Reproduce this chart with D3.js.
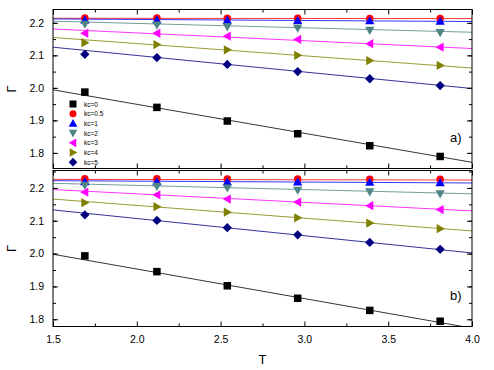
<!DOCTYPE html>
<html>
<head>
<meta charset="utf-8">
<script src="https://cdn.jsdelivr.net/npm/d3@7"></script>
<style>
  body { margin: 0; background: #fff; }
  text { font-family: "Liberation Sans", Arial, sans-serif; }
</style>
</head>
<body>
<div id="chart-container"></div>
<script>
// two stacked panels, Gamma vs T for several kc values

const T = [1.69, 2.12, 2.54, 2.96, 3.39, 3.81];
const labels = ["kc=0", "kc=0.5", "kc=1", "kc=2", "kc=3", "kc=4", "kc=5"];
const colors = ["#000000", "#ff0000", "#0000ff", "#4f8585", "#ff00ff", "#808000", "#000080"];
const shapes = ["square", "circle", "up", "down", "left", "right", "diamond"];

// panel a)
const gammaA = [
    [1.987, 1.940, 1.898, 1.859, 1.822, 1.789],
    [2.215, 2.215, 2.214, 2.214, 2.213, 2.213],
    [2.209, 2.209, 2.208, 2.207, 2.206, 2.205],
    [2.196, 2.193, 2.188, 2.184, 2.177, 2.170],
    [2.168, 2.168, 2.159, 2.149, 2.136, 2.125],
    [2.139, 2.133, 2.117, 2.100, 2.084, 2.069],
    [2.103, 2.093, 2.072, 2.050, 2.028, 2.007]
];
// fit lines: value at T=1.5 and T=4.0
const fitA = [
    [1.994, 1.771], [2.214, 2.213], [2.212, 2.204], [2.205, 2.171],
    [2.181, 2.121], [2.155, 2.061], [2.125, 1.998]
];

// panel b)
const gammaB = [
    [1.993, 1.945, 1.902, 1.864, 1.827, 1.794],
    [2.228, 2.228, 2.227, 2.227, 2.226, 2.226],
    [2.219, 2.219, 2.218, 2.218, 2.217, 2.216],
    [2.208, 2.205, 2.200, 2.193, 2.188, 2.182],
    [2.187, 2.179, 2.166, 2.157, 2.146, 2.134],
    [2.155, 2.143, 2.126, 2.109, 2.093, 2.076],
    [2.118, 2.101, 2.079, 2.057, 2.034, 2.013]
];
const fitB = [
    [1.998, 1.773], [2.226, 2.224], [2.222, 2.215], [2.214, 2.182],
    [2.195, 2.130], [2.166, 2.069], [2.133, 2.002]
];

const yTicks = [1.8, 1.9, 2.0, 2.1, 2.2];
const xTicks = [1.5, 2.0, 2.5, 3.0, 3.5, 4.0];

const svgWidth = 494, svgHeight = 370;
const left = 53, right = 472;

const svg = d3.select("#chart-container")
    .append("svg")
    .attr("width", svgWidth)
    .attr("height", svgHeight);

const scaleX = d3.scaleLinear().domain([1.5, 4.0]).range([left, right]);

function marker(g, shape, x, y, color, s) {
    if (shape === "circle") {
        g.append("circle").attr("cx", x).attr("cy", y).attr("r", s / 2).attr("fill", color);
        return;
    }
    if (shape === "square") {
        g.append("rect").attr("x", x - s / 2).attr("y", y - s / 2)
            .attr("width", s).attr("height", s).attr("fill", color);
        return;
    }
    const r = s * 0.62;
    let pts;
    if (shape === "up") pts = [[0, -r], [r, r * 0.75], [-r, r * 0.75]];
    if (shape === "down") pts = [[0, r], [r, -r * 0.75], [-r, -r * 0.75]];
    if (shape === "left") pts = [[-r, 0], [r * 0.75, -r], [r * 0.75, r]];
    if (shape === "right") pts = [[r, 0], [-r * 0.75, -r], [-r * 0.75, r]];
    if (shape === "diamond") pts = [[0, -r], [r, 0], [0, r], [-r, 0]];
    g.append("path")
        .attr("d", "M" + pts.map(p => (x + p[0]) + "," + (y + p[1])).join("L") + "Z")
        .attr("fill", color);
}

function panel(top, bottom, domain, gamma, fit, tag, showX) {
    const scaleY = d3.scaleLinear().domain(domain).range([bottom, top]);
    const g = svg.append("g");

    const clipId = "clip" + tag;
    svg.append("clipPath").attr("id", clipId)
        .append("rect").attr("x", left).attr("y", top)
        .attr("width", right - left).attr("height", bottom - top);

    const plot = g.append("g").attr("clip-path", `url(#${clipId})`);

    // fit lines
    fit.forEach(function(f, i) {
        plot.append("line")
            .attr("x1", scaleX(1.5)).attr("y1", scaleY(f[0]))
            .attr("x2", scaleX(4.0)).attr("y2", scaleY(f[1]))
            .attr("stroke", colors[i])
            .attr("stroke-opacity", 0.8)
            .attr("stroke-width", 1);
    });

    // markers
    gamma.forEach(function(series, i) {
        series.forEach(function(v, j) {
            marker(plot, shapes[i], scaleX(T[j]), scaleY(v), colors[i], 7.5);
        });
    });

    // axes, ticks inward on all sides
    const minorY = d3.range(1.75, 2.26, 0.05).map(d => +d.toFixed(2))
        .filter(d => d >= domain[0] && d <= domain[1]);
    const minorX = d3.range(1.75, 4.0, 0.5);

    g.append("g").attr("transform", `translate(${left},0)`)
        .call(d3.axisLeft(scaleY).tickValues(yTicks).tickFormat(d3.format(".1f"))
            .tickSizeInner(-5).tickSizeOuter(0).tickPadding(9))
        .call(a => a.select(".domain").remove());
    g.append("g").attr("transform", `translate(${left},0)`)
        .call(d3.axisLeft(scaleY).tickValues(minorY).tickFormat("").tickSizeInner(-3).tickSizeOuter(0))
        .call(a => a.select(".domain").remove());
    g.append("g").attr("transform", `translate(${right},0)`)
        .call(d3.axisRight(scaleY).tickValues(yTicks).tickFormat("").tickSizeInner(-5).tickSizeOuter(0))
        .call(a => a.select(".domain").remove());
    g.append("g").attr("transform", `translate(${right},0)`)
        .call(d3.axisRight(scaleY).tickValues(minorY).tickFormat("").tickSizeInner(-3).tickSizeOuter(0))
        .call(a => a.select(".domain").remove());

    const bottomAxis = d3.axisBottom(scaleX).tickValues(xTicks)
        .tickFormat(showX ? d3.format(".1f") : "").tickSizeInner(-5).tickSizeOuter(0).tickPadding(9);
    g.append("g").attr("transform", `translate(0,${bottom})`)
        .call(bottomAxis)
        .call(a => a.select(".domain").remove());
    g.append("g").attr("transform", `translate(0,${bottom})`)
        .call(d3.axisBottom(scaleX).tickValues(minorX).tickFormat("").tickSizeInner(-3).tickSizeOuter(0))
        .call(a => a.select(".domain").remove());
    g.append("g").attr("transform", `translate(0,${top})`)
        .call(d3.axisTop(scaleX).tickValues(xTicks).tickFormat("").tickSizeInner(-5).tickSizeOuter(0))
        .call(a => a.select(".domain").remove());
    g.append("g").attr("transform", `translate(0,${top})`)
        .call(d3.axisTop(scaleX).tickValues(minorX).tickFormat("").tickSizeInner(-3).tickSizeOuter(0))
        .call(a => a.select(".domain").remove());

    g.selectAll(".tick text").attr("font-size", "10.5px").attr("fill", "#000")
        .attr("font-family", "'Liberation Sans', Arial, sans-serif");

    g.append("rect")
        .attr("x", left).attr("y", top)
        .attr("width", right - left).attr("height", bottom - top)
        .attr("fill", "none").attr("stroke", "#000").attr("stroke-width", 1);

    g.append("text")
        .attr("x", 450).attr("y", bottom - 27)
        .attr("font-size", "13px")
        .text(tag + ")");

    g.append("text")
        .attr("transform", `translate(16,${(top + bottom) / 2}) rotate(-90)`)
        .attr("text-anchor", "middle")
        .attr("font-size", "13px")
        .text("Γ");

    return g;
}

const gA = panel(9.5, 168.5, [1.752, 2.241], gammaA, fitA, "a", false);
panel(170.5, 326.5, [1.778, 2.253], gammaB, fitB, "b", true);

// legend in panel a)
const legendG = gA.append("g").attr("transform", "translate(73,104)");
labels.forEach(function(lab, i) {
    const row = legendG.append("g").attr("transform", `translate(0,${i * 9.7})`);
    marker(row, shapes[i], 0, 0, colors[i], 7);
    row.append("text").attr("x", 11).attr("y", 2.5)
        .attr("font-size", "6.5px").text(lab);
});

svg.append("text")
    .attr("x", (left + right) / 2).attr("y", 364)
    .attr("text-anchor", "middle")
    .attr("font-size", "13px")
    .text("T");
</script>
</body>
</html>
